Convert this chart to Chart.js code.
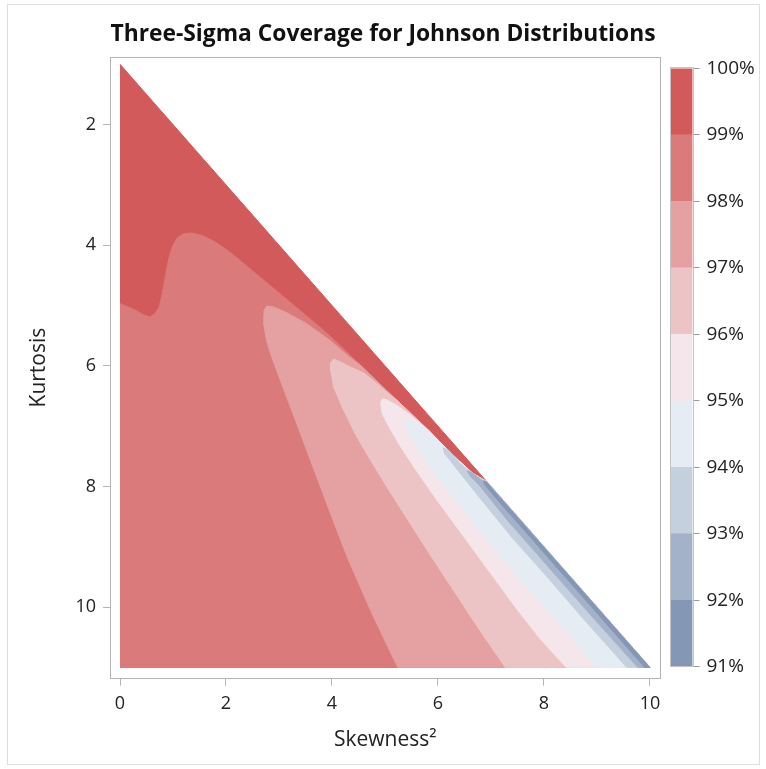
<!DOCTYPE html>
<html>
<head>
<meta charset="utf-8">
<title>Three-Sigma Coverage for Johnson Distributions</title>
<script src="https://cdn.jsdelivr.net/npm/chart.js@4.4.1/dist/chart.umd.min.js"></script>
<style>
  html, body { margin: 0; padding: 0; background: #fff; }
  #wrap { position: relative; width: 766px; height: 769px; }
  #contour { position: absolute; left: 0; top: 0; }
  #legendBar { position: absolute; left: 660px; top: 0; }
</style>
</head>
<body>
<div id="wrap">
  <canvas id="contour" width="766" height="769"></canvas>
  <canvas id="legendBar" width="106" height="769"></canvas>
</div>
<script>
// contour levels (%) and the fill of each band between two levels
const levels = [91, 92, 93, 94, 95, 96, 97, 98, 99, 100];
const bandColors = ['#8497b4', '#a3b2c9', '#c5d0de', '#e6ecf3', '#f4e6ea', '#edc4c6', '#e5a0a1', '#db7a7a', '#d35a5a'];

// feasible region (kurtosis >= skewness^2 + 1), all inside the 99-100% band
const region = [[0, 1], [10, 11], [0, 11]];

// lower edge of the 99-100% band, from the kurtosis axis to the diagonal
const edge99 = [[0, 4.97], [0.25, 5.06], [0.45, 5.16], [0.56, 5.19], [0.66, 5.14], [0.74, 5.02],
  [0.8, 4.8], [0.86, 4.5], [0.92, 4.22], [0.99, 4.02], [1.08, 3.88], [1.2, 3.81], [1.35, 3.8],
  [1.55, 3.84], [1.8, 3.95], [2.05, 4.1], [2.3, 4.28], [2.6, 4.5], [2.9, 4.72], [3.2, 4.94],
  [3.5, 5.16], [3.8, 5.38], [4.1, 5.62], [4.5, 5.96], [4.9, 6.3], [5.2, 6.55], [5.5, 6.8],
  [5.8, 7.05], [6.1, 7.32], [6.4, 7.58], [6.65, 7.78], [6.8, 7.86], [6.92, 7.92]];

// the other edges: from where they leave edge99, round the tip, down to kurtosis 11
const edge98 = [[4.3, 5.83], [3.95, 5.57], [3.5, 5.29], [3.1, 5.1], [2.88, 5.02], [2.77, 5.01],
  [2.72, 5.08], [2.71, 5.3], [2.77, 5.6], [2.86, 5.85], [3.05, 6.3], [3.33, 6.95], [3.65, 7.7],
  [3.95, 8.4], [4.3, 9.2], [4.75, 10.1], [5.24, 11]];
const edge97 = [[4.9, 6.33], [4.6, 6.12], [4.3, 6.0], [4.15, 5.93], [4.03, 5.89], [3.98, 5.94],
  [3.98, 6.1], [4.03, 6.35], [4.2, 6.7], [4.45, 7.15], [4.75, 7.6], [5.1, 8.1], [5.5, 8.65],
  [5.9, 9.2], [6.35, 9.8], [6.8, 10.4], [7.27, 11]];
const edge96 = [[5.5, 6.83], [5.25, 6.67], [5.05, 6.57], [4.95, 6.55], [4.92, 6.62], [4.95, 6.8],
  [5.08, 7.02], [5.3, 7.35], [5.6, 7.75], [6.0, 8.25], [6.5, 8.85], [7.0, 9.45], [7.5, 10.05],
  [7.95, 10.55], [8.42, 11]];
const edge95 = [[5.8, 7.08], [5.6, 6.96], [5.45, 6.9], [5.39, 6.95], [5.43, 7.1], [5.6, 7.35],
  [5.9, 7.75], [6.35, 8.25], [6.85, 8.8], [7.4, 9.4], [7.95, 9.95], [8.45, 10.45], [8.99, 11]];
const edge94 = [[6.4, 7.6], [6.2, 7.4], [6.1, 7.36], [6.12, 7.45], [6.3, 7.65], [6.8, 8.2],
  [7.4, 8.85], [7.98, 9.42], [8.75, 10.2], [9.56, 11]];
const edge93 = [[6.8, 7.88], [6.62, 7.76], [6.55, 7.74], [6.6, 7.82], [6.78, 7.98], [7.3, 8.55],
  [8.1, 9.35], [8.95, 10.2], [9.77, 11]];
const edge92 = [[6.92, 7.93], [6.86, 7.91], [6.88, 7.97], [7.05, 8.15], [7.9, 9.0], [8.9, 10.0], [9.9, 11]];

const xTicks = [0, 2, 4, 6, 8, 10];
const yTicks = [2, 4, 6, 8, 10];

const fontFamily = "'Open Sans', 'Noto Sans', sans-serif";
const textColor = '#222';
const lineGrey = '#b4b4b4';

const toPoints = (arr) => arr.map(p => ({ x: p[0], y: p[1] }));

// close a band: its own edge, the corner, the diagonal and back along edge99
const outline = (edge) => {
  const jx = edge[0][0];
  const back = edge99.filter(p => p[0] > jx).reverse();
  return toPoints(edge.concat([[10, 11]], back));
};

const shapes = [
  { pts: toPoints(region), color: bandColors[8] },
  { pts: toPoints(edge99.concat([[10, 11], [0, 11]])), color: bandColors[7] },
  { pts: outline(edge98), color: bandColors[6] },
  { pts: outline(edge97), color: bandColors[5] },
  { pts: outline(edge96), color: bandColors[4] },
  { pts: outline(edge95), color: bandColors[3] },
  { pts: outline(edge94), color: bandColors[2] },
  { pts: outline(edge93), color: bandColors[1] },
  { pts: outline(edge92), color: bandColors[0] }
];

// last dataset is painted first, so the lowest band ends on top
const datasets = shapes.slice().reverse().map(s => ({
  data: s.pts,
  showLine: true,
  fill: 'shape',
  backgroundColor: s.color,
  borderColor: s.color,
  borderWidth: 1,
  borderJoinStyle: 'round',
  pointRadius: 0,
  tension: 0
}));

const frame = {
  id: 'frame',
  afterDraw(chart, args, opts) {
    const { ctx, chartArea: a } = chart;
    ctx.save();
    ctx.strokeStyle = opts.color;
    ctx.lineWidth = 1;
    ctx.strokeRect(Math.round(a.left) - 0.5, Math.round(a.top) - 0.5,
      Math.round(a.right - a.left) + 1, Math.round(a.bottom - a.top) + 1);
    if (opts.outer) {
      ctx.strokeStyle = opts.outer;
      ctx.strokeRect(7.5, 4.5, 752, 760);
    }
    ctx.restore();
  }
};

new Chart(document.getElementById('contour'), {
  type: 'scatter',
  data: { datasets: datasets },
  options: {
    responsive: false,
    animation: false,
    events: [],
    layout: { padding: 0 },
    plugins: {
      legend: { display: false },
      tooltip: { enabled: false },
      frame: { color: lineGrey, outer: '#dedede' },
      title: {
        display: true,
        text: 'Three-Sigma Coverage for Johnson Distributions',
        color: '#111',
        font: { family: fontFamily, size: 22.8, weight: 'bold' },
        padding: { top: 21.3, bottom: 8.9 }
      }
    },
    scales: {
      x: {
        type: 'linear',
        min: -0.17,
        max: 10.18,
        afterBuildTicks: s => { s.ticks = xTicks.map(v => ({ value: v })); },
        ticks: { color: textColor, font: { family: fontFamily, size: 18 }, padding: 7.6 },
        grid: { display: true, drawOnChartArea: false, drawTicks: true, tickLength: 8, color: lineGrey },
        border: { display: false },
        title: { display: true, text: 'Skewness²', color: textColor, font: { family: fontFamily, size: 21 }, padding: { top: 0, bottom: 16.4 } },
        afterFit: s => { s.height = 91.4; }
      },
      y: {
        type: 'linear',
        reverse: true,
        min: 0.89,
        max: 11.17,
        afterBuildTicks: s => { s.ticks = yTicks.map(v => ({ value: v })); },
        ticks: { color: textColor, font: { family: fontFamily, size: 18 }, padding: 7 },
        grid: { display: true, drawOnChartArea: false, drawTicks: true, tickLength: 8, color: lineGrey },
        border: { display: false },
        title: { display: true, text: 'Kurtosis', color: textColor, font: { family: fontFamily, size: 21 }, padding: { top: 26.4, bottom: 0 } },
        afterFit: s => { s.width = 111; }
      },
      spacer: {
        type: 'linear',
        position: 'right',
        display: true,
        ticks: { display: false },
        grid: { display: false },
        border: { display: false },
        afterFit: s => { s.width = 106.5; }
      }
    }
  },
  plugins: [frame]
});

// colour bar: one floating bar per band
new Chart(document.getElementById('legendBar'), {
  type: 'bar',
  data: {
    labels: [''],
    datasets: bandColors.map((c, i) => ({
      data: [[levels[i], levels[i + 1]]],
      backgroundColor: c,
      borderWidth: 0,
      grouped: false,
      barPercentage: 1,
      categoryPercentage: 1
    }))
  },
  options: {
    responsive: false,
    animation: false,
    events: [],
    layout: { padding: { left: 10.5, top: 68.4, bottom: 102.2, right: 0 } },
    plugins: {
      legend: { display: false },
      tooltip: { enabled: false },
      frame: { color: '#c4c4c4' }
    },
    scales: {
      x: { display: false },
      y: {
        position: 'right',
        min: 91,
        max: 100,
        ticks: { stepSize: 1, callback: v => v + '%', color: textColor, font: { family: fontFamily, size: 19 }, padding: 7 },
        grid: { display: true, drawOnChartArea: false, drawTicks: true, tickLength: 7, color: '#999' },
        border: { display: false },
        afterFit: s => { s.width = 73.5; }
      }
    }
  },
  plugins: [frame]
});
</script>
</body>
</html>
